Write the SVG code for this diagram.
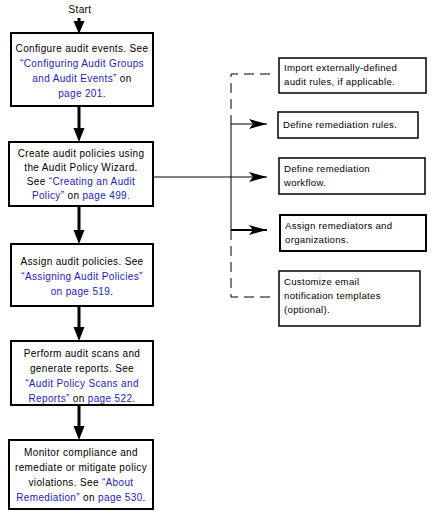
<svg xmlns="http://www.w3.org/2000/svg" width="434" height="517" viewBox="0 0 434 517">
<style>
text{font-family:"Liberation Sans",Arial,sans-serif;font-size:10px;fill:#000;letter-spacing:0.35px}
.c{text-anchor:middle}
.s{font-size:9.6px;letter-spacing:0.3px}
.b{fill:#1c1cb8}
.k{fill:#000}
.lb{fill:#fff;stroke:#000;stroke-width:2}
.rb{fill:#fff;stroke:#000;stroke-width:1.5}
.v{stroke:#000;stroke-width:3;fill:none}
.h{stroke:#000;stroke-width:1;fill:none}
.d{stroke:#000;stroke-width:1;fill:none;stroke-dasharray:10 6}
</style>
<defs>
<marker id="ar" markerUnits="userSpaceOnUse" markerWidth="20" markerHeight="12" viewBox="-19 -6 20 12" refX="0" refY="0" orient="auto">
<polygon points="-18,-5 -14,0 -18,5 0,0" fill="#000"/>
</marker>
</defs>
<g id="connectors">
<line class="v" x1="79" y1="18" x2="79" y2="23"/>
<polygon points="73.5,21 84.5,21 79,34" fill="#000"/>
<line class="v" x1="79" y1="106" x2="79" y2="130"/>
<polygon points="73.5,128 84.5,128 79,142" fill="#000"/>
<line class="v" x1="79" y1="206" x2="79" y2="232"/>
<polygon points="73.5,230 84.5,230 79,244" fill="#000"/>
<line class="v" x1="79" y1="306" x2="79" y2="329"/>
<polygon points="73.5,327 84.5,327 79,341" fill="#000"/>
<line class="v" x1="79" y1="405" x2="79" y2="428"/>
<polygon points="73.5,426 84.5,426 79,440" fill="#000"/>
<line class="h" x1="153" y1="177" x2="267" y2="177" marker-end="url(#ar)"/>
<line class="h" x1="231" y1="124" x2="267" y2="124" marker-end="url(#ar)"/>
<line class="h" style="stroke-width:2" x1="231" y1="230" x2="267" y2="230" marker-end="url(#ar)"/>
<line class="h" x1="231" y1="118" x2="231" y2="233"/>
<path class="d" d="M270,74 H231 V118"/>
<path class="d" d="M270,297 H231 V233"/>
</g>
<g id="start"><text class="c" x="80" y="13">Start</text></g>
<g id="n1">
<rect class="lb" x="11" y="33" width="142" height="73"/>
<text class="c" x="82" y="52">Configure audit events. See</text>
<text class="c b" x="82" y="67">“Configuring Audit Groups</text>
<text class="c b" x="82" y="82">and Audit Events”<tspan class="k"> on</tspan></text>
<text class="c" x="82" y="97"><tspan class="b">page 201</tspan>.</text>
</g>
<g id="n2">
<rect class="lb" x="9" y="142" width="144" height="64"/>
<text class="c" x="81" y="157">Create audit policies using</text>
<text class="c" x="81" y="171">the Audit Policy Wizard.</text>
<text class="c" x="81" y="185">See <tspan class="b">“Creating an Audit</tspan></text>
<text class="c b" x="81" y="199">Policy” <tspan class="k">on</tspan> page 499.</text>
</g>
<g id="n3">
<rect class="lb" x="11" y="244" width="142" height="62"/>
<text class="c" x="82" y="265">Assign audit policies. See</text>
<text class="c b" x="82" y="280">“Assigning Audit Policies”</text>
<text class="c" x="82" y="295"><tspan class="b">on page 519</tspan>.</text>
</g>
<g id="n4">
<rect class="lb" x="11" y="341" width="142" height="64"/>
<text class="c" x="82" y="357">Perform audit scans and</text>
<text class="c" x="82" y="372">generate reports. See</text>
<text class="c b" x="82" y="387">“Audit Policy Scans and</text>
<text class="c" x="82" y="402"><tspan class="b">Reports” <tspan class="k">on</tspan> page 522</tspan>.</text>
</g>
<g id="n5">
<rect class="lb" x="9" y="440" width="144" height="69"/>
<text class="c" x="81" y="456">Monitor compliance and</text>
<text class="c" x="81" y="471">remediate or mitigate policy</text>
<text class="c" x="81" y="486">violations. See <tspan class="b">“About</tspan></text>
<text class="c" x="81" y="501"><tspan class="b">Remediation”</tspan> on <tspan class="b">page 530</tspan>.</text>
</g>
<g id="r1">
<rect class="rb" x="279" y="58" width="147" height="35"/>
<text class="s" x="284" y="71">Import externally-defined</text>
<text class="s" x="284" y="85">audit rules, if applicable.</text>
</g>
<g id="r2">
<rect class="rb" x="278" y="112" width="140" height="26"/>
<text class="s" x="283" y="128">Define remediation rules.</text>
</g>
<g id="r3">
<rect class="rb" x="279" y="158" width="146" height="36"/>
<text class="s" x="284" y="172">Define remediation</text>
<text class="s" x="284" y="186">workflow.</text>
</g>
<g id="r4">
<rect class="rb" style="stroke-width:2" x="280" y="215" width="146" height="36"/>
<text class="s" x="285" y="229">Assign remediators and</text>
<text class="s" x="285" y="243">organizations.</text>
</g>
<g id="r5">
<rect class="rb" x="279" y="271" width="141" height="55"/>
<text class="s" x="284" y="285">Customize email</text>
<text class="s" x="284" y="299">notification templates</text>
<text class="s" x="284" y="313">(optional).</text>
</g>
</svg>
